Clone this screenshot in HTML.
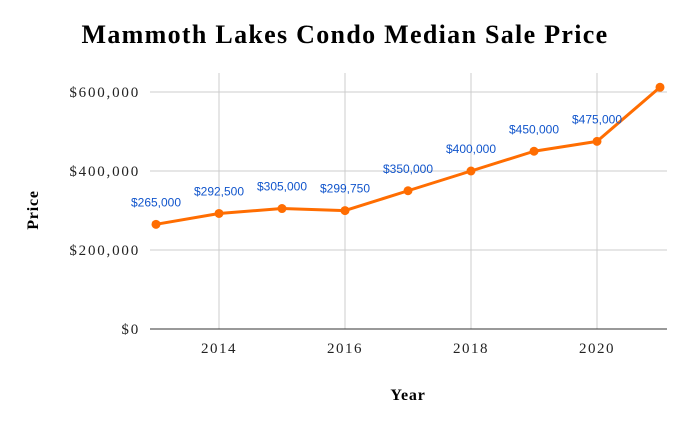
<!DOCTYPE html>
<html><head><meta charset="utf-8"><style>
html,body{margin:0;padding:0;background:#fff;}
svg{display:block;}
</style></head><body>
<svg id="chart" width="689" height="426" viewBox="0 0 689 426" xmlns="http://www.w3.org/2000/svg">
<text x="345" y="43" text-anchor="middle" font-family="Liberation Serif, serif" font-weight="bold" font-size="26" letter-spacing="1.3" fill="#000">Mammoth Lakes Condo Median Sale Price</text>
<text transform="translate(38,210) rotate(-90)" text-anchor="middle" font-family="Liberation Serif, serif" font-weight="bold" font-size="16" letter-spacing="0.8" fill="#000">Price</text>
<text x="408" y="400" text-anchor="middle" font-family="Liberation Serif, serif" font-weight="bold" font-size="16" letter-spacing="0.8" fill="#000">Year</text>
<g id="grid"></g><g id="series"></g><g id="labels"></g>
</svg>
<script>
const years = [2013,2014,2015,2016,2017,2018,2019,2020,2021];
const prices = [265000,292500,305000,299750,350000,400000,450000,475000,612000];
const priceLabels = ["$265,000","$292,500","$305,000","$299,750","$350,000","$400,000","$450,000","$475,000",""];
const yTicks = [0,200000,400000,600000];
const yTickLabels = ["$0","$200,000","$400,000","$600,000"];
const xTicks = [2014,2016,2018,2020];

const NS="http://www.w3.org/2000/svg";
const x = v => 156 + (v-2013)*63;
const y = v => 329 - v*(79/200000);
function mk(tag, attrs, parent){const e=document.createElementNS(NS,tag);for(const k in attrs)e.setAttribute(k,attrs[k]);parent.appendChild(e);return e;}
const grid=document.getElementById('grid'), series=document.getElementById('series'), labels=document.getElementById('labels');

yTicks.forEach((t,i)=>{
  if(t!==0){const l=mk('line',{x1:150,x2:667,y1:y(t),y2:y(t),stroke:'#cccccc','stroke-width':1},grid);
  
  }
  const tx=mk('text',{x:140,y:y(t)+5,'text-anchor':'end','font-family':'Liberation Serif, serif','font-size':15,'letter-spacing':1.8,fill:'#222'},grid);
  tx.textContent=yTickLabels[i];
  
  
});
xTicks.forEach(t=>{
  const l=mk('line',{x1:x(t),x2:x(t),y1:73,y2:329,stroke:'#cccccc','stroke-width':1},grid);
  
  
  const tx=mk('text',{x:x(t),y:353,'text-anchor':'middle','font-family':'Liberation Serif, serif','font-size':15,'letter-spacing':1.5,fill:'#222'},grid);
  tx.textContent=String(t);
  
  
});
const ax=mk('line',{x1:150,x2:667,y1:329,y2:329,stroke:'#333','stroke-width':1},grid);



const pts=years.map((yr,i)=>x(yr)+','+y(prices[i])).join(' ');
const pl=mk('polyline',{points:pts,fill:'none',stroke:'#ff6d01','stroke-width':3,'stroke-linejoin':'round'},series);


years.forEach((yr,i)=>{
  const c=mk('circle',{cx:x(yr),cy:y(prices[i]),r:4.5,fill:'#ff6d01'},series);
  
  
  if(priceLabels[i]){
    const tx=mk('text',{x:x(yr),y:y(prices[i])-18,'text-anchor':'middle','font-family':'Liberation Sans, sans-serif','font-size':12,fill:'#1155cc'},labels);
    tx.textContent=priceLabels[i];
    
    
  }
});
</script>
</body></html>
